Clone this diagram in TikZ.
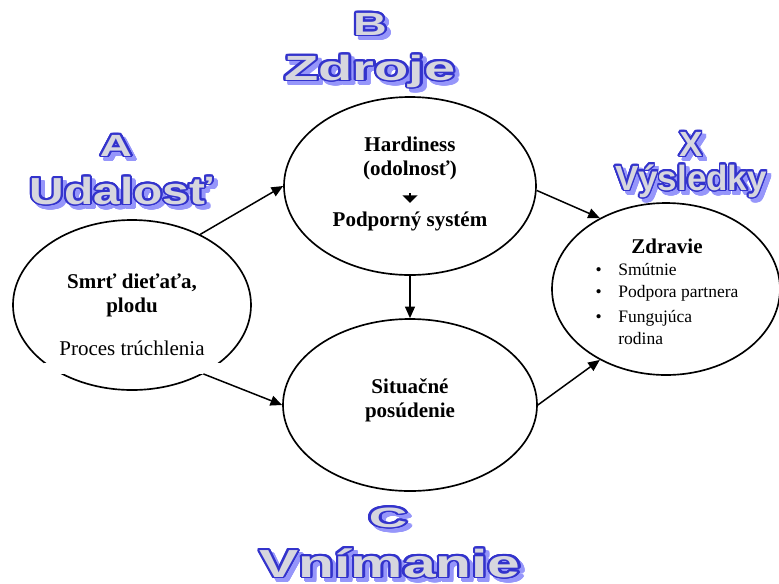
\documentclass[tikz,border=0pt]{standalone}
\usepackage{fontspec}
\setmainfont{Liberation Serif}
\newfontfamily\wafont{Liberation Sans}
\usepackage{graphicx}
\usepackage{contour}
\contourlength{0.9pt}
\contournumber{24}
\usetikzlibrary{arrows.meta,shapes,positioning}
\definecolor{waline}{RGB}{51,51,204}
\definecolor{wafill}{RGB}{214,214,222}
\definecolor{washade}{RGB}{150,150,250}
\newcommand{\bodysize}{\fontsize{12.6}{14.4}\selectfont}
\newcommand{\listsize}{\fontsize{10.5}{13.2}\selectfont}
\newcommand{\wordart}[2]{\scalebox{#1}[1]{\contour{waline}{\textcolor{wafill}{#2}}}}
\newcommand{\wordshade}[2]{\scalebox{#1}[1]{\contour{washade}{\textcolor{washade}{#2}}}}
\tikzset{
  oval/.style     = {draw, ellipse, line width=1pt, inner sep=0pt},
  ovaltext/.style = {align=center, inner sep=0pt, font=\bodysize\bfseries},
  link/.style     = {-{Triangle[length=7pt,width=6pt]}, line width=0.9pt},
  minilink/.style = {-{Triangle[length=4.5pt,width=9pt]}, line width=1.4pt},
  headline/.style = {anchor=base, inner sep=0pt}
}

\begin{document}
\begin{tikzpicture}[x=0.6pt, y=-0.6pt]
	\useasboundingbox (0,0) rectangle (779,583);
	
	% headings A, B, C, X with their shadows
	\foreach \nm/\px/\py/\sz/\xs/\txt in {
	    hB/370/35/19.3/1.45/B, hZ/370/80/21/1.6/Zdroje,
	    hA/116/156/18.4/1.45/A, hU/121/204/22.6/1.27/Udalosť,
	    hX/691/156/21/1.0/X, hV/691/190/21/1.0/Výsledky,
	    hC/388/527/16.8/1.9/C, hN/390/577/23.5/1.5/Vnímanie} {
	  \node[headline, font=\wafont\bfseries\fontsize{\sz}{\sz}\selectfont]
	    (\nm-s) at (\px+4,\py+4) {\wordshade{\xs}{\txt}};
	  \node[headline, font=\wafont\bfseries\fontsize{\sz}{\sz}\selectfont]
	    (\nm) at (\px,\py) {\wordart{\xs}{\txt}};
	}
	
	% the four ovals
	\node[oval, minimum width=142.8pt, minimum height=102pt] (ev) at (132,305) {};
	\node[oval, minimum width=151.2pt, minimum height=106.8pt] (zd) at (410,186) {};
	\node[oval, minimum width=152.4pt, minimum height=103.2pt] (sit) at (410,405) {};
	\node[oval, minimum width=136.8pt, minimum height=103.2pt] (vys) at (666,289) {};
	
	% texts in the ovals
	\node[ovaltext] (smrt) at (132,295) {Smrť dieťaťa,\\plodu};
	\fill[white] (44,363) rectangle (221,374);
	\node[ovaltext, font=\bodysize] (proces) at (132,348) {Proces trúchlenia};
	\node[ovaltext] (hard) at (410,158) {Hardiness\\(odolnosť)};
	\node[ovaltext] (podp) at (410,221) {Podporný systém};
	\draw[minilink, shorten <=8pt, shorten >=5pt] (hard) -- (podp);
	\node[ovaltext] (situ) at (410,400) {Situačné\\posúdenie};
	\node[ovaltext, font=\bodysize] (zdrav) at (667,295) {\textbf{Zdravie}\\[3pt]
	  {\listsize\begin{tabular}{@{}l@{\hspace{10pt}}l@{}}
	    \textbullet & Smútnie\\
	    \textbullet & Podpora partnera\\[2pt]
	    \textbullet & Fungujúca\\
	                & rodina
	  \end{tabular}}};
	
	% arrows between the ovals
	\draw[link] (ev.46) -- (zd.180);
	\draw[link] (ev.-44) -- (sit.180);
	\draw[link] (zd.south) -- (sit.north);
	\draw[link] (zd.-2) -- (vys.133);
	\draw[link] (sit.0) -- (vys.227);
	
\end{tikzpicture}
\end{document}
